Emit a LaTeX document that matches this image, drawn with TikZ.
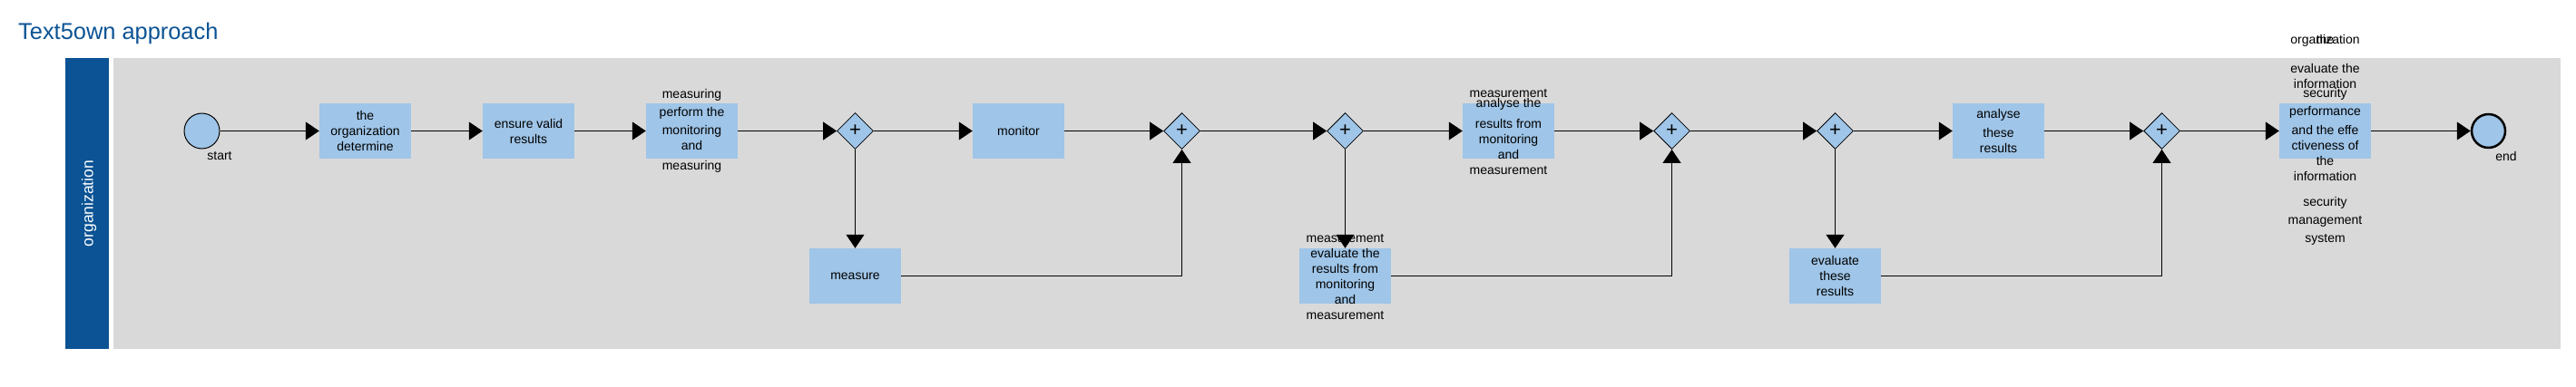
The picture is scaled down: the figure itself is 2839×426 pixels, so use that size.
\documentclass[tikz,border=0pt]{standalone}
\usepackage{fontspec}
\setmainfont{Liberation Sans}
\usetikzlibrary{arrows.meta,shapes.geometric}
\definecolor{lanehead}{HTML}{0B5394}
\definecolor{lanefill}{HTML}{D9D9D9}
\definecolor{taskfill}{HTML}{9FC5E8}
\tikzset{
	taskbox/.style={fill=taskfill, minimum width=101pt, minimum height=61pt, inner sep=0pt, align=center, font=\fontsize{14}{17}\selectfont},
	tasktext/.style={align=center, inner sep=0pt, font=\fontsize{14}{17}\selectfont},
	gate/.style={diamond, draw=black, line width=0.8pt, fill=taskfill, minimum width=40pt, minimum height=40pt, inner sep=0pt, font=\fontsize{22}{22}\selectfont},
	event/.style={circle, draw=black, fill=taskfill, inner sep=0pt},
	flow/.style={-{Triangle[length=15pt,width=20pt]}, line width=1pt}
}

\begin{document}
\begin{tikzpicture}[x=1pt, y=-1pt]
			%%%%% START %%%%%
			\useasboundingbox (0, 0) rectangle (2839, 426);
			
			\node[anchor=base west, inner sep=0pt, text=lanehead, font=\fontsize{25.4}{30}\selectfont] (title) at (20, 43) {Text5own approach};
			
			% lane
			\fill[lanehead] (72, 64) rectangle (120, 385);
			\fill[lanefill] (125, 64) rectangle (2822, 385);
			\node[rotate=90, inner sep=0pt, text=white, font=\fontsize{17.5}{20}\selectfont] (lanename) at (98, 224.5) {organization};
			
			% events
			\node[event, line width=1pt, minimum size=39pt] (start) at (222.5, 144.5) {};
			\node[tasktext] (startlbl) at (242, 172) {start};
			\node[event, line width=2.5pt, minimum size=37pt] (finish) at (2742.5, 144.5) {};
			\node[tasktext] (finishlbl) at (2762, 172) {end};
			
			% tasks
			\node[taskbox] (determine) at (402.5, 144.5) {the\\organization\\determine};
			\node[taskbox] (ensure) at (582.5, 144.5) {ensure valid\\results};
			\node[taskbox] (perform) at (762.5, 144.5) {};
			\node[tasktext] (performtxt) at (762.5, 144.5) {measuring\\[2.6pt]perform the\\[3pt]monitoring\\and\\[5.6pt]measuring};
			\node[taskbox] (monitor) at (1122.5, 144.5) {monitor};
			\node[taskbox] (measure) at (942.5, 304.5) {measure};
			
			\node[taskbox] (analyse) at (1662.5, 144.5) {};
			\node[tasktext] (analysetxt) at (1662.5, 145.8) {measurement\\[-6pt]analyse the\\[6pt]results from\\monitoring\\and\\measurement};
			\node[taskbox] (evaluate) at (1482.5, 304.5) {};
			\node[tasktext] (evaluatetxt) at (1482.5, 305.8) {measurement\\evaluate the\\results from\\monitoring\\and\\measurement};
			
			\node[taskbox] (analysethese) at (2202.5, 144.5) {analyse\\[3.7pt]these\\results};
			\node[taskbox] (evaluatethese) at (2022.5, 304.5) {evaluate\\these\\results};
			
			\node[taskbox] (review) at (2562.5, 144.5) {};
			\node[tasktext, anchor=base] (reviewtop) at (2562.5, 48) {organization};
			\node[tasktext, anchor=base] (reviewthe) at (2562.5, 48) {the};
			\node[tasktext, anchor=north] (reviewtxt) at (2562.5, 70.6) {evaluate the\\information\\[-7pt]security\\[3pt]performance\\[4pt]and the effe\\ctiveness of\\the\\information\\[11pt]security\\[3pt]management\\[3pt]system};
			
			% gateways
			\node[gate] (g1) at (942.5, 144.5) {+};
			\node[gate] (g2) at (1302.5, 144.5) {+};
			\node[gate] (g3) at (1482.5, 144.5) {+};
			\node[gate] (g4) at (1842.5, 144.5) {+};
			\node[gate] (g5) at (2022.5, 144.5) {+};
			\node[gate] (g6) at (2382.5, 144.5) {+};
			
			% flows
			\draw[flow] (start.east) -- (determine.west);
			\draw[flow] (determine.east) -- (ensure.west);
			\draw[flow] (ensure.east) -- (perform.west);
			\draw[flow] (perform.east) -- (g1.west);
			\draw[flow] (g1.east) -- (monitor.west);
			\draw[flow] (g1.south) -- (measure.north);
			\draw[flow] (monitor.east) -- (g2.west);
			\draw[flow] (measure.east) -| (g2.south);
			
			\draw[flow] (g2.east) -- (g3.west);
			\draw[flow] (g3.east) -- (analyse.west);
			\draw[flow] (g3.south) -- (evaluate.north);
			\draw[flow] (analyse.east) -- (g4.west);
			\draw[flow] (evaluate.east) -| (g4.south);
			
			\draw[flow] (g4.east) -- (g5.west);
			\draw[flow] (g5.east) -- (analysethese.west);
			\draw[flow] (g5.south) -- (evaluatethese.north);
			\draw[flow] (analysethese.east) -- (g6.west);
			\draw[flow] (evaluatethese.east) -| (g6.south);
			
			\draw[flow] (g6.east) -- (review.west);
			\draw[flow] (review.east) -- (finish.west);
			
			%%%%% END %%%%%
\end{tikzpicture}
\end{document}
